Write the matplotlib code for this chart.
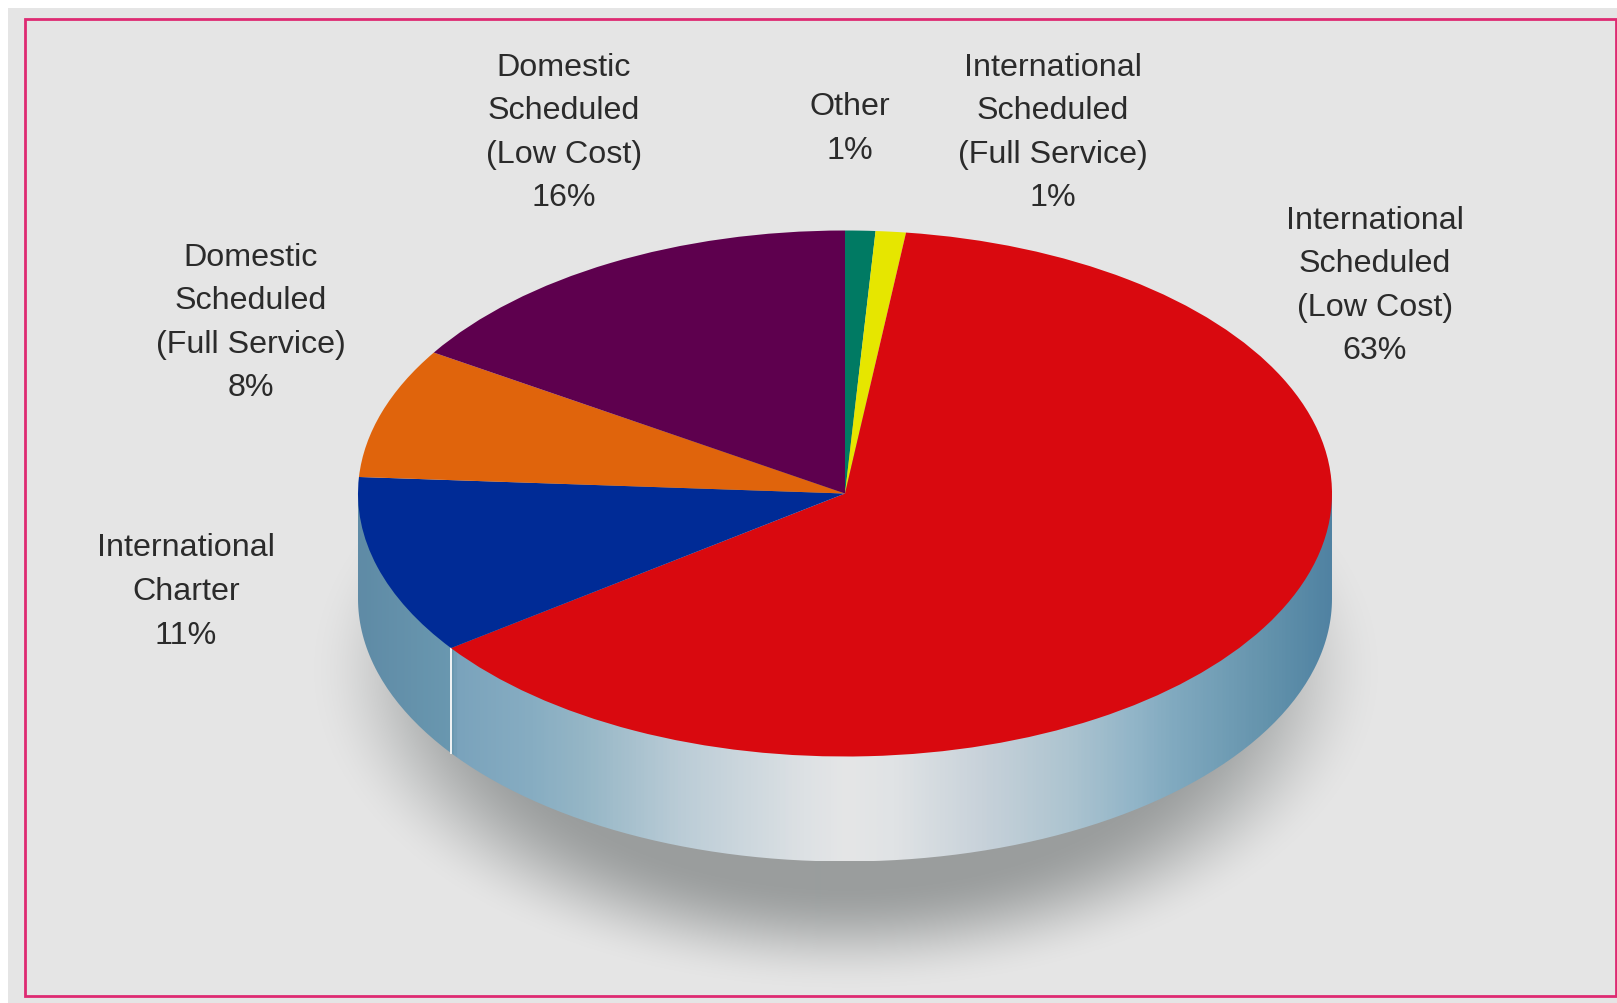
import numpy as np
import matplotlib
matplotlib.use('Agg')
import matplotlib.pyplot as plt
from matplotlib.colors import LinearSegmentedColormap
from matplotlib.patches import Rectangle, PathPatch
from matplotlib.path import Path

categories = ['Other', 'International\nScheduled\n(Full Service)', 'International\nScheduled\n(Low Cost)',
              'International\nCharter', 'Domestic\nScheduled\n(Full Service)', 'Domestic\nScheduled\n(Low Cost)']
shares = [1, 1, 63, 11, 8, 16]
colors = ['#007a63', '#e6e600', '#d9090f', '#002b96', '#e0640c', '#5e004e']
# label centres in px of the full size picture
label_x = [850, 1053, 1375, 186, 251, 564]
label_y = [129, 133, 286, 592, 323, 133]

W, H = 1617, 1004
cx, cy, rx, ry, depth = 845, 494.5, 487, 263, 105

fig = plt.figure(figsize=(W / 100, H / 100), dpi=100, facecolor='white')
bg = fig.add_axes([0, 0, 1, 1])
bg.set_xlim(0, W)
bg.set_ylim(H, 0)
bg.axis('off')
bg.add_patch(Rectangle((8, 9), W - 8, H - 9, fc='#e5e5e5', ec='none'))
bg.add_patch(Rectangle((25, 20), 1591, 977, fc='none', ec='#de2a72', lw=2.0))

# soft shadow under the disc
xx, yy = np.meshgrid(np.arange(W), np.arange(H))
d = np.sqrt(((xx - cx) / 538) ** 2 + ((yy - 670) / 322) ** 2)
s = np.clip((1 - d) / 0.33, 0, 1)
a = s * s * (3 - 2 * s)
rgba = np.zeros((H, W, 4))
rgba[..., :3] = np.array([0x9a, 0x9d, 0x9d]) / 255
rgba[..., 3] = a
bg.imshow(rgba, extent=(0, W, H, 0), zorder=1, aspect='auto')

# side of the disc, gradient runs left to right
side_cmap = LinearSegmentedColormap.from_list('side', [
    (0.0, '#5f8ba6'), (0.095, '#6a98b0'), (0.10, '#7aa3bc'), (0.177, '#87adc2'), (0.23, '#95b6c6'),
    (0.334, '#bccdd7'), (0.458, '#dde1e4'), (0.5, '#e5e6e7'), (0.55, '#e0e3e5'), (0.64, '#c8d2da'),
    (0.73, '#adc4d0'), (0.797, '#92b5c8'), (0.84, '#80a9bf'), (0.93, '#6594ad'), (1.0, '#5082a2')])
t = np.linspace(np.pi, 0, 200)
top_x = cx + rx * np.cos(t)
bot_y = cy + depth + ry * np.sin(t)
verts = list(zip(top_x, bot_y)) + [(cx + rx, cy), (cx - rx, cy), (cx - rx, cy + depth)]
side_clip = PathPatch(Path(verts), transform=bg.transData, fc='none', ec='none')
bg.add_patch(side_clip)
im = bg.imshow(np.linspace(0, 1, 600)[None, :], extent=(cx - rx, cx + rx, cy + depth + ry, cy),
               cmap=side_cmap, aspect='auto', zorder=2)
im.set_clip_path(side_clip)
bg.set_xlim(0, W)
bg.set_ylim(H, 0)

# white seam below the red / blue boundary
seam_ang = np.radians(sum(shares[:3]) * 3.6)
seam_x = cx + rx * np.sin(seam_ang)
seam_y = cy - ry * np.cos(seam_ang)
bg.plot([seam_x, seam_x], [seam_y, seam_y + depth], color='#f2f5f6', lw=1.4, zorder=3)

# top of the disc: pie in axes stretched to the ellipse box
ax = fig.add_axes([(cx - rx) / W, 1 - (cy + ry) / H, 2 * rx / W, 2 * ry / H])
ax.patch.set_alpha(0)
ax.pie(shares, colors=colors, startangle=90, counterclock=False, radius=1,
       wedgeprops={'linewidth': 0})
ax.set_aspect('auto')
ax.set_xlim(-1, 1)
ax.set_ylim(-1, 1)

pct = [str(s) + '%' for s in shares]
for c, p, x, y in zip(categories, pct, label_x, label_y):
    bg.text(x, y, c + '\n' + p, ha='center', va='center', family='Liberation Sans', fontsize=23.2,
            color='#2b2b2b', linespacing=1.59, zorder=5)

fig.savefig('out.png', dpi=100)
